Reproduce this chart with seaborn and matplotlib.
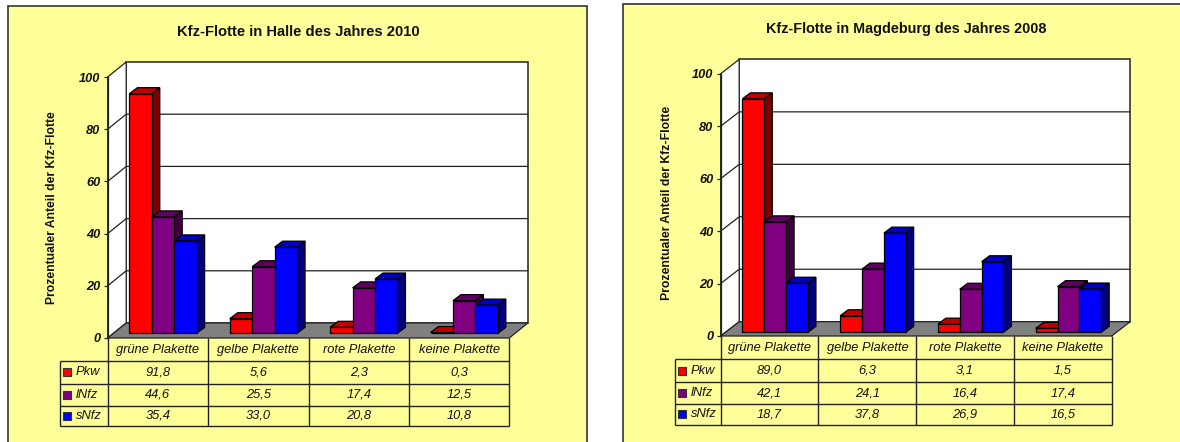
import matplotlib
matplotlib.use("Agg")
import matplotlib.pyplot as plt
from matplotlib.patches import Polygon, Rectangle
from matplotlib.transforms import Affine2D, blended_transform_factory
import pandas as pd
import seaborn as sns

# Fleet shares per emission sticker, in percent
categories = ["grüne Plakette", "gelbe Plakette", "rote Plakette", "keine Plakette"]
series_names = ["Pkw", "lNfz", "sNfz"]
halle_pkw = [91.8, 5.6, 2.3, 0.3]
halle_lnfz = [44.6, 25.5, 17.4, 12.5]
halle_snfz = [35.4, 33.0, 20.8, 10.8]
magdeburg_pkw = [89.0, 6.3, 3.1, 1.5]
magdeburg_lnfz = [42.1, 24.1, 16.4, 17.4]
magdeburg_snfz = [18.7, 37.8, 26.9, 16.5]
y_ticks = [0, 20, 40, 60, 80, 100]
y_label = "Prozentualer Anteil der Kfz-Flotte"

FONT = "Liberation Sans"
W, H = 1180, 442
PANEL = "#FFFF99"
front_colors = ["#FF0000", "#800080", "#0000FF"]
side_colors = ["#800000", "#400040", "#000080"]
top_colors = ["#C00000", "#600060", "#0000C0"]

sns.set_theme(style="white")
plt.rcParams["font.family"] = [FONT, "DejaVu Sans"]

fig = plt.figure(figsize=(W / 100, H / 100), dpi=100, facecolor="white")
canvas = fig.add_axes([0, 0, 1, 1], zorder=0)
canvas.set_xlim(0, W)
canvas.set_ylim(H, 0)
canvas.axis("off")


def to_canvas(x, y):
    return x, H - y


def draw_chart(title, rows, frame, plane, wall, bar_shift, depth, table_rows, table_left, title_x, title_pad,
               title_size, label_x, label_y, label_size):
    fx0, fy0, fx1, fy1 = frame
    px0, py_top, px1, py0 = plane
    wdx, wdy = wall
    per_unit = (py0 - py_top) / 100

    canvas.add_patch(Rectangle((fx0, fy0), fx1 - fx0, fy1 - fy0, fc=PANEL, ec="#333333", lw=1.2, clip_on=False))

    # Back wall, side wall and floor of the box
    canvas.add_patch(Rectangle((px0 + wdx, py_top - wdy), px1 - px0, py0 - py_top, fc="white", ec="#222222", lw=1.1))
    canvas.add_patch(Polygon([(px0, py_top), (px0 + wdx, py_top - wdy), (px0 + wdx, py0 - wdy), (px0, py0)],
                             fc="white", ec="#222222", lw=0.9))
    canvas.add_patch(Polygon([(px0, py0), (px0 + wdx, py0 - wdy), (px1 + wdx, py0 - wdy), (px1, py0)],
                             fc="#808080", ec="#222222", lw=0.9))
    for tick in y_ticks[1:-1]:
        y = py0 - tick * per_unit
        canvas.plot([px0, px0 + wdx, px1 + wdx], [y, y - wdy, y - wdy], color="#222222", lw=0.9)

    ax = fig.add_axes([px0 / W, (H - py0) / H, (px1 - px0) / W, (py0 - py_top) / H], zorder=1)
    ax.patch.set_visible(False)
    df = pd.DataFrame({
        "Plakette": categories * len(series_names),
        "Fahrzeug": [s for s in series_names for _ in categories],
        "Anteil": [v for row in rows for v in row],
    })
    sns.barplot(data=df, x="Plakette", y="Anteil", hue="Fahrzeug", hue_order=series_names, order=categories,
                palette=front_colors, saturation=1, width=0.67, gap=0, edgecolor="black", linewidth=0.9,
                legend=False, ax=ax)
    ax.set_xlim(-0.5, len(categories) - 0.5)
    ax.set_ylim(0, 100)
    ax.set_yticks(y_ticks)
    ax.set_yticklabels([str(t) for t in y_ticks], fontsize=9.2, fontweight="bold", style="italic", color="#111111")
    ax.tick_params(axis="y", left=True, length=2.8, width=0.9, color="#222222", pad=2.5)
    ax.tick_params(axis="x", bottom=False, length=0, pad=4.5)
    ax.set_xticks(range(len(categories)))
    ax.set_xticklabels(categories, fontsize=9.3, style="italic", color="#111111")
    ax.set_xlabel("")
    ax.set_ylabel(y_label, fontsize=label_size, fontweight="bold", color="#111111")
    ax.yaxis.set_label_coords(label_x, label_y)
    ax.set_title(title, x=title_x, pad=title_pad, fontsize=title_size, fontweight="bold", color="#111111")
    for name, spine in ax.spines.items():
        spine.set_visible(name == "left")
        spine.set_color("#222222")
        spine.set_linewidth(0.9)

    # Shift the bars back onto the floor and extrude each one into a block
    shift = Affine2D().translate(bar_shift[0], bar_shift[1])
    ddx, ddy = depth
    for k, container in enumerate(ax.containers):
        for bar in container:
            bar.set_transform(ax.transData + shift)
            bar.set_clip_on(False)
            bar.set_zorder(3 + 2 * k)
            box = bar.get_window_extent()
            x0, y0 = to_canvas(box.x0, box.y1)
            x1, y1 = to_canvas(box.x1, box.y0)
            ax.add_patch(Polygon([(x0, y0), (x0 + ddx, y0 - ddy), (x1 + ddx, y0 - ddy), (x1, y0)],
                                 fc=top_colors[k], ec="black", lw=0.9, transform=canvas.transData,
                                 clip_on=False, zorder=2 + 2 * k))
            ax.add_patch(Polygon([(x1, y0), (x1 + ddx, y0 - ddy), (x1 + ddx, y1 - ddy), (x1, y1)],
                                 fc=side_colors[k], ec="black", lw=0.9, transform=canvas.transData,
                                 clip_on=False, zorder=2 + 2 * k))

    # Data table below the plot
    line = dict(color="#222222", lw=1.0, solid_capstyle="butt", zorder=1)
    col_w = (px1 - px0) / len(categories)
    for i in range(len(categories) + 1):
        x = px0 + i * col_w
        canvas.plot([x, x], [py0, table_rows[-1]], **line)
    canvas.plot([table_left, table_left], [table_rows[0], table_rows[-1]], **line)
    for y in table_rows:
        canvas.plot([table_left, px1], [y, y], **line)
    cell = blended_transform_factory(ax.transData, canvas.transData)
    for r, row in enumerate(rows):
        yc = (table_rows[r] + table_rows[r + 1]) / 2
        canvas.add_patch(Rectangle((table_left + 3, yc - 4), 8, 8, fc=front_colors[r], ec="#333333", lw=0.8))
        canvas.text(table_left + 16, yc, series_names[r], fontsize=9.3, style="italic", color="#111111",
                    va="center", ha="left")
        for c, value in enumerate(row):
            ax.text(c, yc, f"{value:.1f}".replace(".", ","), transform=cell, fontsize=9.3, style="italic",
                    color="#111111", ha="center", va="center", clip_on=False)


draw_chart("Kfz-Flotte in Halle des Jahres 2010", [halle_pkw, halle_lnfz, halle_snfz],
           frame=(8, 6, 587, 446), plane=(107.7, 77, 509.3, 338), wall=(18.5, 15),
           bar_shift=(5.1, 4.7), depth=(8, 6),
           table_rows=[360.7, 383.5, 405.5, 426], table_left=60, title_x=0.475, title_pad=29.5, title_size=10.6,
           label_x=-0.124, label_y=0.5, label_size=8.75)
draw_chart("Kfz-Flotte in Magdeburg des Jahres 2008", [magdeburg_pkw, magdeburg_lnfz, magdeburg_snfz],
           frame=(623, 3.5, 1186, 446), plane=(720.7, 73.7, 1111.7, 336), wall=(18.5, 14.3),
           bar_shift=(5.6, 3.7), depth=(8, 6),
           table_rows=[359, 382.3, 403.7, 425], table_left=675, title_x=0.474, title_pad=29, title_size=10.4,
           label_x=-0.122, label_y=0.506, label_size=8.85)

fig.savefig("out.png", dpi=100, facecolor="white")
